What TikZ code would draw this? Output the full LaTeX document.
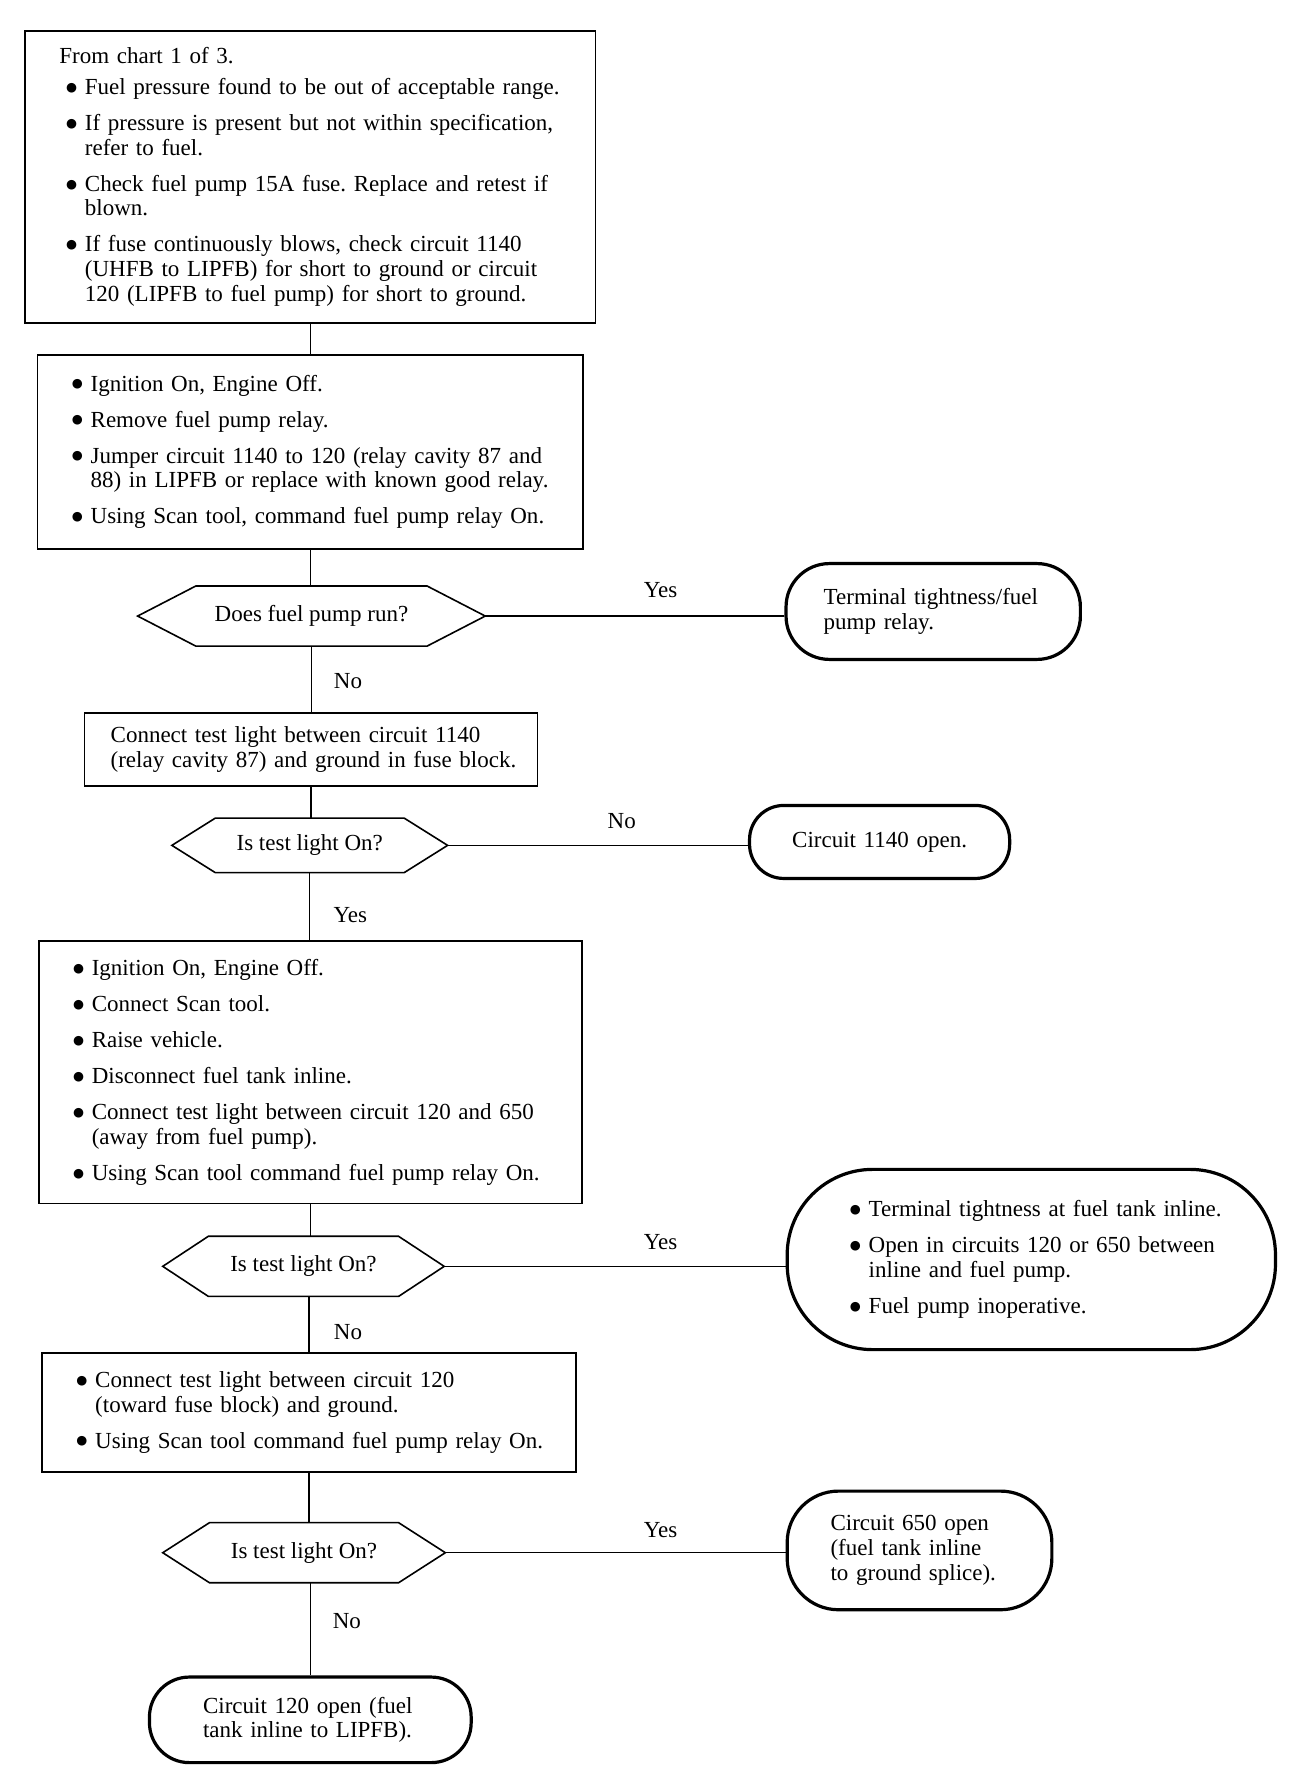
\documentclass[tikz,border=0pt]{standalone}
\usepackage{fontspec}
\setmainfont{Liberation Serif}
\newfontfamily\dejavu{DejaVu Sans}
\newdimen\uu \uu=0.5704pt
\newlength\bind \setlength\bind{9.4pt}
\newcommand\flfont{\fontsize{11.5}{12.3}\selectfont\frenchspacing}
\newcommand\bdot{\raisebox{1.6pt}{\dejavu\fontsize{6.3}{6.3}\selectfont ●}}
\newcommand\bitem[1]{\makebox[\bind][l]{\bdot}\mbox{#1}}
\newcommand\cont[1]{\hspace*{\bind}\mbox{#1}}
\newcommand\hexo[2]{\draw[hexline] (#1.west) -- ([xshift=#2\uu]#1.north west) -- ([xshift=-#2\uu]#1.north east) -- (#1.east) -- ([xshift=-#2\uu]#1.south east) -- ([xshift=#2\uu]#1.south west) -- cycle;}
\begin{document}
\begin{tikzpicture}[x=0.5704pt,y=-0.5704pt,
  tbox/.style={draw, line width=0.8pt, inner sep=0pt, align=left, font=\flfont},
  pill/.style={draw, line width=1.6pt, inner sep=0pt, align=left, font=\flfont},
  hexn/.style={inner sep=0pt, font=\flfont},
  hexline/.style={line width=0.8pt, line join=miter},
  conn/.style={line width=0.75pt},
  lbl/.style={font=\flfont, inner sep=0pt}]
\useasboundingbox (0,0) rectangle (1150,1562);

% boxes
\node[tbox, minimum width=500\uu, minimum height=256\uu, text width=440\uu] (b1) at (272,155) {%
\mbox{From chart 1 of 3.}\\[3.1pt]
\hspace*{3.4pt}\bitem{Fuel pressure found to be out of acceptable range.}\\[5.7pt]
\hspace*{3.4pt}\bitem{If pressure is present but not within specification,}\\
\hspace*{3.4pt}\cont{refer to fuel.}\\[5.7pt]
\hspace*{3.4pt}\bitem{Check fuel pump 15A fuse. Replace and retest if}\\
\hspace*{3.4pt}\cont{blown.}\\[5.7pt]
\hspace*{3.4pt}\bitem{If fuse continuously blows, check circuit 1140}\\
\hspace*{3.4pt}\cont{(UHFB to LIPFB) for short to ground or circuit}\\
\hspace*{3.4pt}\cont{120 (LIPFB to fuel pump) for short to ground.}};

\node[tbox, minimum width=478\uu, minimum height=170\uu, text width=418\uu] (b2) at (272,396) {%
\bitem{Ignition On, Engine Off.}\\[5.7pt]
\bitem{Remove fuel pump relay.}\\[5.7pt]
\bitem{Jumper circuit 1140 to 120 (relay cavity 87 and}\\
\cont{88) in LIPFB or replace with known good relay.}\\[5.7pt]
\bitem{Using Scan tool, command fuel pump relay On.}};

\node[hexn, minimum width=304\uu, minimum height=52\uu] (h1) at (273,540) {Does fuel pump run?};
\hexo{h1}{51}

\node[pill, rounded corners=38\uu, minimum width=258\uu, minimum height=84\uu, text width=192\uu] (p1) at (818,536) {%
\mbox{Terminal tightness/fuel}\\
\mbox{pump relay.}};

\node[tbox, minimum width=397\uu, minimum height=64\uu, text width=351\uu] (b3) at (272.5,657) {%
\mbox{Connect test light between circuit 1140}\\
\mbox{(relay cavity 87) and ground in fuse block.}};

\node[hexn, minimum width=241\uu, minimum height=47\uu] (h2) at (271.5,741) {Is test light On?};
\hexo{h2}{38}

\node[pill, rounded corners=30\uu, minimum width=228\uu, minimum height=64\uu, text width=200\uu, align=center] (p2) at (771,738) {Circuit 1140 open.};

\node[tbox, minimum width=476\uu, minimum height=230\uu, text width=416\uu] (b4) at (272,940) {%
\bitem{Ignition On, Engine Off.}\\[5.7pt]
\bitem{Connect Scan tool.}\\[5.7pt]
\bitem{Raise vehicle.}\\[5.7pt]
\bitem{Disconnect fuel tank inline.}\\[5.7pt]
\bitem{Connect test light between circuit 120 and 650}\\
\cont{(away from fuel pump).}\\[5.7pt]
\bitem{Using Scan tool command fuel pump relay On.}};

\node[hexn, minimum width=246\uu, minimum height=52\uu] (h3) at (266,1110) {Is test light On?};
\hexo{h3}{40}

\node[pill, rounded corners=75\uu, minimum width=428\uu, minimum height=158\uu, text width=318\uu] (p3) at (904,1104) {%
\bitem{Terminal tightness at fuel tank inline.}\\[5.7pt]
\bitem{Open in circuits 120 or 650 between}\\
\cont{inline and fuel pump.}\\[5.7pt]
\bitem{Fuel pump inoperative.}};

\node[tbox, minimum width=468\uu, minimum height=104\uu, text width=408\uu] (b5) at (271,1238) {%
\bitem{Connect test light between circuit 120}\\
\cont{(toward fuse block) and ground.}\\[5.7pt]
\bitem{Using Scan tool command fuel pump relay On.}};

\node[hexn, minimum width=247\uu, minimum height=52\uu] (h4) at (266.5,1361) {Is test light On?};
\hexo{h4}{41}

\node[pill, rounded corners=45\uu, minimum width=232\uu, minimum height=104\uu, text width=156\uu] (p4) at (806,1359) {%
\mbox{Circuit 650 open}\\
\mbox{(fuel tank inline}\\
\mbox{to ground splice).}};

\node[pill, rounded corners=35\uu, minimum width=282\uu, minimum height=75\uu, text width=188\uu] (p5) at (272,1507.5) {%
\mbox{Circuit 120 open (fuel}\\
\mbox{tank inline to LIPFB).}};

% connectors
\draw[conn] (b1.south) -- (b1.south |- b2.north);
\draw[conn] (b2.south) -- (b2.south |- h1.north);
\draw[conn] (h1.east) -- (h1.east -| p1.west);
\draw[conn] (h1.south) -- (h1.south |- b3.north);
\draw[conn] (b3.south) -- (b3.south |- h2.north);
\draw[conn] (h2.east) -- (h2.east -| p2.west);
\draw[conn] (h2.south) -- (h2.south |- b4.north);
\draw[conn] (b4.south) -- (b4.south |- h3.north);
\draw[conn] (h3.east) -- (h3.east -| p3.west);
\draw[conn] (b5.north |- h3.south) -- (b5.north);
\draw[conn] (b5.south) -- (b5.south |- h4.north);
\draw[conn] (h4.east) -- (h4.east -| p4.west);
\draw[conn] (p5.north |- h4.south) -- (p5.north);

% labels
\node[lbl] (l1) at (579,517) {Yes};
\node[lbl] (l2) at (305,597) {No};
\node[lbl] (l3) at (545,720) {No};
\node[lbl] (l4) at (307,802) {Yes};
\node[lbl] (l5) at (579,1089) {Yes};
\node[lbl] (l6) at (305,1168) {No};
\node[lbl] (l7) at (579,1341) {Yes};
\node[lbl] (l8) at (304,1421) {No};
\end{tikzpicture}
\end{document}
